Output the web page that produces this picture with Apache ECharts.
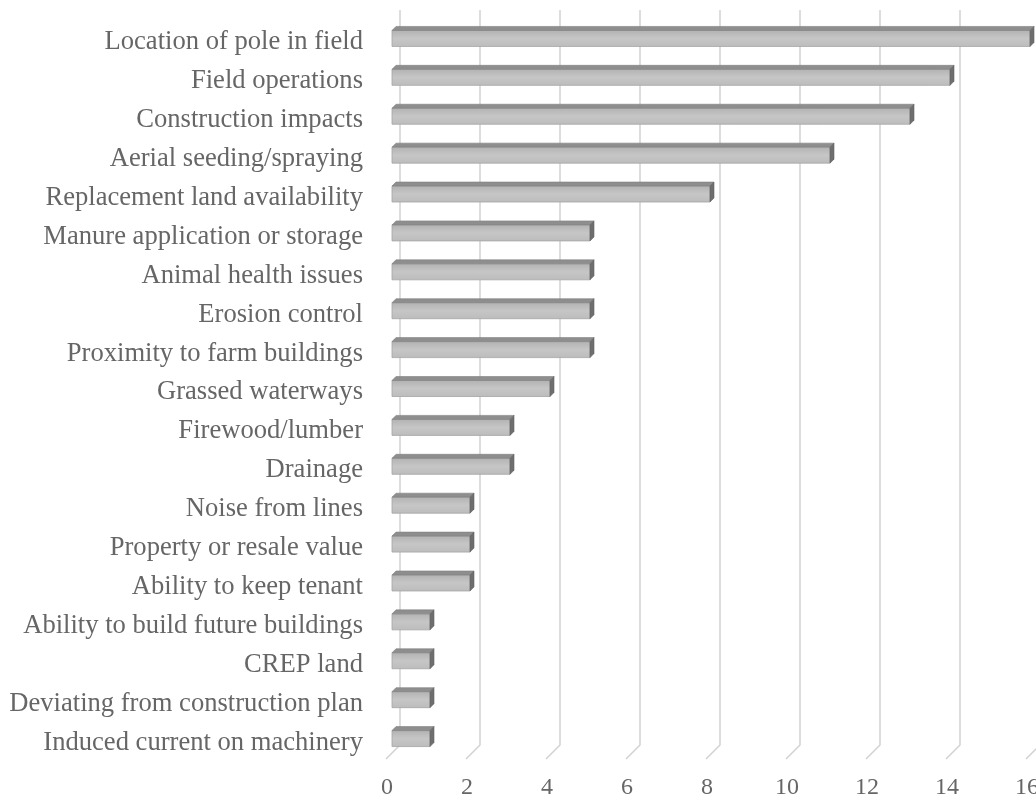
<!DOCTYPE html>
<html>
<head>
<meta charset="utf-8">
<script src="https://cdn.jsdelivr.net/npm/echarts@6/dist/echarts.min.js"></script>
<style>html,body{margin:0;padding:0;background:#fff;}#c{width:1036px;height:801px;}</style>
</head>
<body>
<div id="c"></div>
<script>
const categories = [
  "Location of pole in field",
  "Field operations",
  "Construction impacts",
  "Aerial seeding/spraying",
  "Replacement land availability",
  "Manure application or storage",
  "Animal health issues",
  "Erosion control",
  "Proximity to farm buildings",
  "Grassed waterways",
  "Firewood/lumber",
  "Drainage",
  "Noise from lines",
  "Property or resale value",
  "Ability to keep tenant",
  "Ability to build future buildings",
  "CREP land",
  "Deviating from construction plan",
  "Induced current on machinery"
];
const values = [16, 14, 13, 11, 8, 5, 5, 5, 5, 4, 3, 3, 2, 2, 2, 1, 1, 1, 1];
const tickValues = [0, 2, 4, 6, 8, 10, 12, 14, 16];

const chart = echarts.init(document.getElementById('c'));
const font = '"Liberation Serif", "Times New Roman", serif';

chart.setOption({
  backgroundColor: '#ffffff',
  animation: false,
  grid: [
    { left: 392, right: 4, top: 17, bottom: 45, containLabel: false, outerBoundsMode: 'none' },
    { left: 392, right: 4, top: 23, bottom: 39, containLabel: false, outerBoundsMode: 'none' }
  ],
  xAxis: [
    {
      gridIndex: 0, type: 'value', min: 0, max: 16, interval: 2,
      axisLine: { show: false }, axisTick: { show: false }, splitLine: { show: false },
      axisLabel: { color: '#666', fontFamily: font, fontSize: 24, margin: 20, padding: [0, 10, 0, 0], hideOverlap: false }
    },
    {
      gridIndex: 1, type: 'value', min: 0, max: 16, interval: 2, show: false
    }
  ],
  yAxis: [
    {
      gridIndex: 0, type: 'category', data: categories, inverse: true,
      axisLine: { show: false }, axisTick: { show: false }, axisLabel: { show: false }
    },
    {
      gridIndex: 1, type: 'category', data: categories, inverse: true,
      axisLine: { show: false }, axisTick: { show: false }, splitLine: { show: false },
      axisLabel: { color: '#666', fontFamily: font, fontSize: 26.6, margin: 29 }
    }
  ],
  series: [
    {
      type: 'custom', z: 1, silent: true, xAxisIndex: 0, yAxisIndex: 0,
      data: tickValues.map(v => [v, 0]),
      renderItem: function (params, api) {
        const cs = params.coordSys;
        const x = api.coord([api.value(0), 0])[0] + 8;
        const yTop = cs.y - 7;
        const yBot = cs.y + cs.height - 11;
        return {
          type: 'polyline',
          shape: { points: [[x, yTop], [x, yBot], [x - 14, yBot + 14]] },
          style: { stroke: '#d2d2d2', lineWidth: 1.5, fill: null }
        };
      }
    },
    {
      type: 'custom', z: 2, silent: true, xAxisIndex: 0, yAxisIndex: 0,
      data: values.map((v, i) => [v, i]),
      renderItem: function (params, api) {
        const v = api.value(0), idx = api.value(1);
        const x0 = api.coord([0, idx])[0];
        const p = api.coord([v, idx]);
        const h = 16, d = 4;
        const top = p[1] - h / 2 + 2;
        const x1 = p[0] - 2;
        return {
          type: 'group',
          children: [
            {
              type: 'rect',
              shape: { x: x0, y: top, width: x1 - x0, height: h },
              style: {
                fill: new echarts.graphic.LinearGradient(0, 0, 0, 1, [
                  { offset: 0, color: '#b2b2b2' },
                  { offset: 0.5, color: '#c6c6c6' },
                  { offset: 1, color: '#bcbcbc' }
                ]),
                stroke: '#a4a4a4', lineWidth: 0.8
              }
            },
            {
              type: 'polygon',
              shape: { points: [[x0, top], [x0 + d, top - d], [x1 + d, top - d], [x1, top]] },
              style: { fill: '#8e8e8e', stroke: '#808080', lineWidth: 0.6 }
            },
            {
              type: 'polygon',
              shape: { points: [[x1, top], [x1 + d, top - d], [x1 + d, top + h - d], [x1, top + h]] },
              style: { fill: '#6e6e6e', stroke: '#626262', lineWidth: 0.6 }
            }
          ]
        };
      }
    }
  ]
});
</script>
</body>
</html>
